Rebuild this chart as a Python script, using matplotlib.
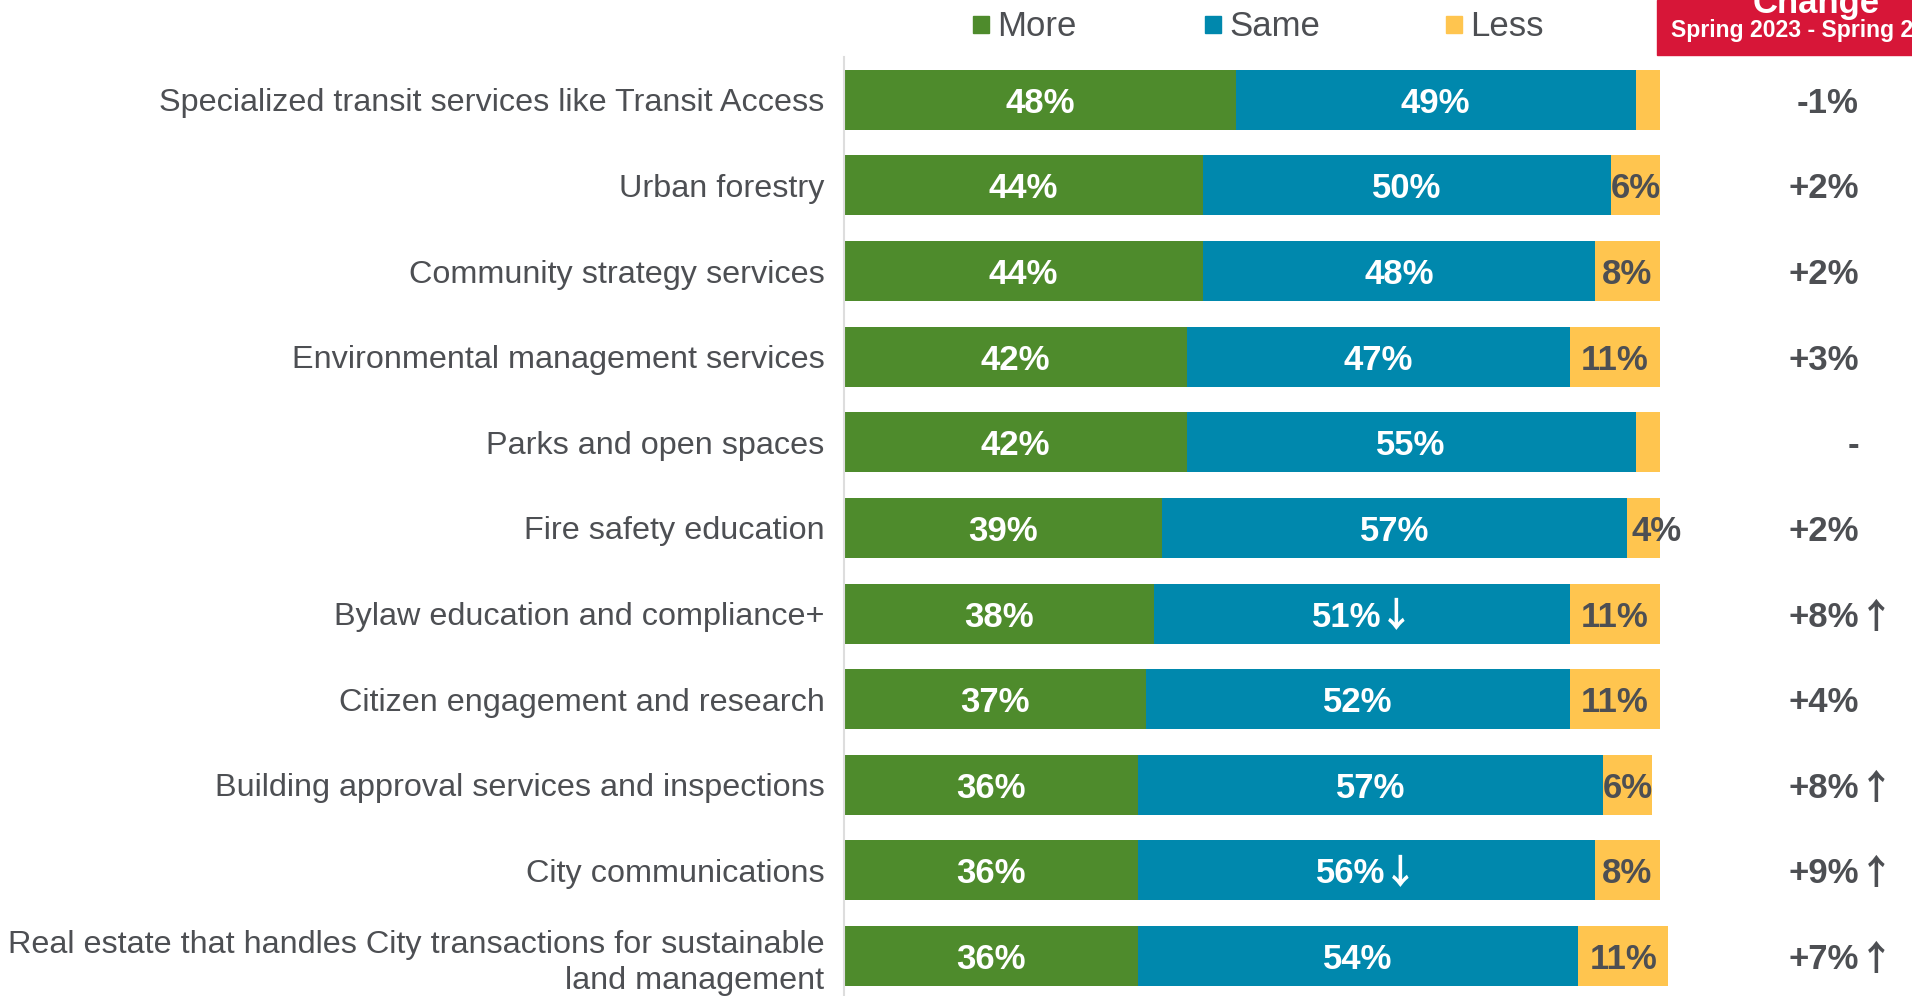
import matplotlib.pyplot as plt
from matplotlib.patches import Rectangle
from matplotlib.transforms import blended_transform_factory

categories = [
    "Specialized transit services like Transit Access",
    "Urban forestry",
    "Community strategy services",
    "Environmental management services",
    "Parks and open spaces",
    "Fire safety education",
    "Bylaw education and compliance+",
    "Citizen engagement and research",
    "Building approval services and inspections",
    "City communications",
    "Real estate that handles City transactions for sustainable\nland management",
]
more = [48, 44, 44, 42, 42, 39, 38, 37, 36, 36, 36]
same = [49, 50, 48, 47, 55, 57, 51, 52, 57, 56, 54]
less = [3, 6, 8, 11, 3, 4, 11, 11, 6, 8, 11]
same_down = [False, False, False, False, False, False, True, False, False, True, False]
change = ["-1%", "+2%", "+2%", "+3%", "-", "+2%", "+8%", "+4%", "+8%", "+9%", "+7%"]
change_up = [False, False, False, False, False, False, True, False, True, True, True]

GREEN = "#4E8B2C"
BLUE = "#0088AD"
YELLOW = "#FFC54F"
DARK = "#4D4F53"
RED = "#D71638"
ARROW_FONT = ["Noto Sans CJK SC", "DejaVu Sans"]

plt.rcParams['font.family'] = ['Liberation Sans', 'DejaVu Sans']

W, H = 1912, 996
fig = plt.figure(figsize=(W / 100, H / 100), dpi=100)

# axes: left edge at x=844px, 1% = 8.16px
x0 = 844
pct = 8.16
xmax = 130
ax = fig.add_axes([x0 / W, 0, xmax * pct / W, 1 - 57 / H])

y = list(range(len(categories)))
h = 0.70
left_same = [m for m in more]
left_less = [m + s for m, s in zip(more, same)]
ax.barh(y, more, height=h, color=GREEN, edgecolor="none")
ax.barh(y, same, left=left_same, height=h, color=BLUE, edgecolor="none")
ax.barh(y, less, left=left_less, height=h, color=YELLOW, edgecolor="none")

ax.set_xlim(0, xmax)
ax.set_ylim(len(categories) - 0.533, -0.5)

lab_kw = dict(va="center_baseline", fontsize=25, fontweight="bold")
for i in y:
    ax.text(more[i] / 2, i, f"{more[i]}%", ha="center", color="white", **lab_kw)
    mid = left_same[i] + same[i] / 2
    if same_down[i]:
        ax.text(mid + 2.4, i, f"{same[i]}%", ha="right", color="white", **lab_kw)
        ax.text(mid + 2.0, i, "\u2193", ha="left", color="white",
                family=ARROW_FONT, **lab_kw)
    else:
        ax.text(mid, i, f"{same[i]}%", ha="center", color="white", **lab_kw)
    if less[i] >= 5:
        ax.text(left_less[i] + less[i] / 2, i, f"{less[i]}%", ha="center",
                color=DARK, **lab_kw)
    elif less[i] == 4:
        ax.text(left_less[i] + 0.5, i, f"{less[i]}%", ha="left",
                color=DARK, **lab_kw)

ax.set_yticks(y)
ax.set_yticklabels(categories, fontsize=23.3, color=DARK, linespacing=1.3)
ax.tick_params(axis="y", length=0, pad=14)
ax.set_xticks([])
for s in ["top", "right", "bottom"]:
    ax.spines[s].set_visible(False)
ax.spines["left"].set_color("#DDDDDD")
ax.spines["left"].set_linewidth(1.5)

# change column
tr = blended_transform_factory(fig.transFigure, ax.transData)
for i in y:
    ax.text(1859 / W, i, change[i], transform=tr, ha="right",
            color=DARK, **lab_kw)
    if change_up[i]:
        ax.text(1859 / W, i, "\u2191", transform=tr, ha="left",
                color=DARK, family=ARROW_FONT, **lab_kw)

# header box
fig.add_artist(Rectangle((1657 / W, 1 - 55 / H), (W - 1657) / W, 55 / H,
                         transform=fig.transFigure, color=RED, clip_on=False))
fig.text(1816 / W, 1 - 13 / H, "Change", ha="center", va="baseline",
         color="white", fontsize=25, fontweight="bold")
fig.text(1671 / W, 1 - 37 / H, "Spring 2023 - Spring 2024", ha="left",
         va="baseline", color="white", fontsize=16.6, fontweight="bold")

# legend
legend_items = [("More", GREEN, 973), ("Same", BLUE, 1205), ("Less", YELLOW, 1446)]
for name, col, px in legend_items:
    fig.add_artist(Rectangle((px / W, 1 - 33 / H), 16 / W, 17 / H,
                             transform=fig.transFigure, color=col))
    fig.text((px + 24) / W, 1 - 27 / H, name, ha="left", va="center",
             color=DARK, fontsize=25)

fig.savefig("out.png", dpi=100)
